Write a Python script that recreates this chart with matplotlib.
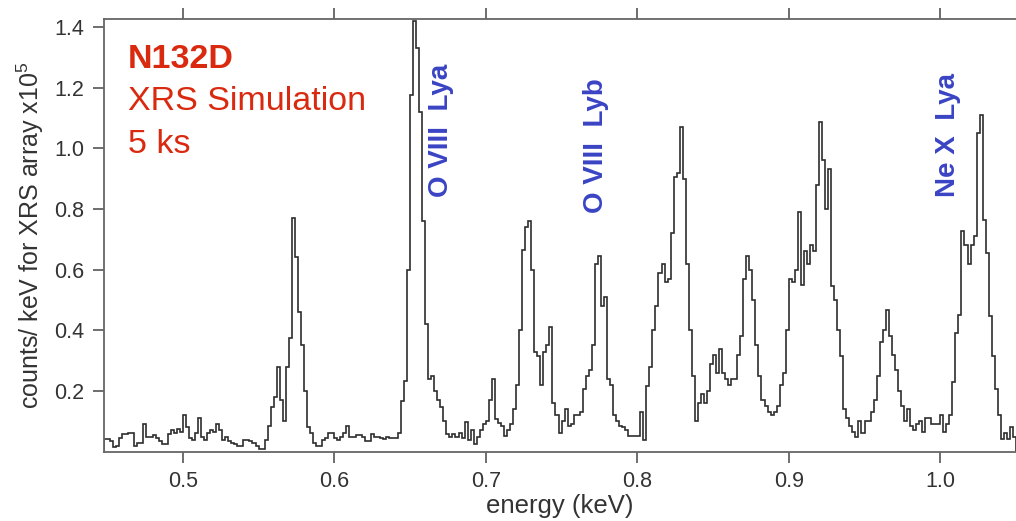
import numpy as np
import matplotlib
matplotlib.use('Agg')
import matplotlib.pyplot as plt

plt.rcParams['font.family'] = ['Liberation Sans', 'DejaVu Sans']
plt.rcParams['mathtext.fontset'] = 'custom'
plt.rcParams['mathtext.rm'] = 'Liberation Sans'

# spectrum binned at 2 eV, starting at 0.448 keV
bin_lo = 0.448
bin_width = 0.002
counts = [
    0.041, 0.041, 0.035, 0.015, 0.020, 0.046, 0.057, 0.057, 0.062, 0.062,
    0.020, 0.030, 0.030, 0.090, 0.050, 0.050, 0.055, 0.045, 0.035, 0.025,
    0.025, 0.057, 0.070, 0.060, 0.075, 0.065, 0.120, 0.080, 0.045, 0.040,
    0.060, 0.110, 0.050, 0.040, 0.060, 0.070, 0.065, 0.090, 0.070, 0.040,
    0.050, 0.035, 0.030,
    0.025, 0.020, 0.020, 0.040, 0.040, 0.035, 0.030, 0.020, 0.010, 0.010,
    0.040, 0.085, 0.146, 0.180, 0.280, 0.170, 0.100, 0.280, 0.376, 0.770,
    0.640, 0.460, 0.350, 0.200, 0.080, 0.060, 0.030, 0.020, 0.020, 0.040,
    0.045, 0.060, 0.060, 0.045, 0.040, 0.050, 0.060, 0.085, 0.050, 0.050,
    0.055, 0.055, 0.050,
    0.036, 0.036, 0.057, 0.047, 0.047, 0.045, 0.042, 0.050, 0.045, 0.045,
    0.045, 0.060, 0.167, 0.233, 0.600, 1.175, 1.420, 1.330, 1.120, 0.760,
    0.420, 0.240, 0.250, 0.200, 0.170, 0.146, 0.100, 0.057, 0.047, 0.057,
    0.050, 0.063, 0.045, 0.097, 0.040, 0.070, 0.025, 0.050, 0.070, 0.090,
    0.100, 0.170, 0.238,
    0.107, 0.096, 0.085, 0.053, 0.070, 0.090, 0.140, 0.220, 0.400, 0.666,
    0.740, 0.759, 0.600, 0.327, 0.316, 0.220, 0.330, 0.350, 0.410, 0.160,
    0.120, 0.060, 0.100, 0.140, 0.085, 0.090, 0.120, 0.120, 0.130, 0.205,
    0.250, 0.270, 0.350, 0.620, 0.644, 0.480, 0.510, 0.240, 0.220, 0.120,
    0.100, 0.085, 0.080,
    0.070, 0.052, 0.052, 0.052, 0.052, 0.130, 0.040, 0.216, 0.280, 0.400,
    0.480, 0.590, 0.620, 0.560, 0.570, 0.720, 0.906, 0.920, 1.070, 0.900,
    0.620, 0.400, 0.250, 0.100, 0.160, 0.190, 0.160, 0.200, 0.290, 0.320,
    0.260, 0.340, 0.260, 0.240, 0.220, 0.240, 0.240, 0.320, 0.380, 0.570,
    0.644, 0.600, 0.500,
    0.350, 0.250, 0.170, 0.150, 0.130, 0.120, 0.130, 0.150, 0.220, 0.260,
    0.400, 0.570, 0.560, 0.600, 0.790, 0.550, 0.660, 0.620, 0.680, 0.660,
    0.880, 1.087, 0.960, 0.800, 0.930, 0.545, 0.500, 0.400, 0.315, 0.140,
    0.110, 0.085, 0.065, 0.050, 0.100, 0.060, 0.100, 0.100, 0.130, 0.170,
    0.250, 0.360, 0.400,
    0.468, 0.380, 0.320, 0.270, 0.200, 0.150, 0.100, 0.140, 0.085, 0.070,
    0.090, 0.100, 0.065, 0.110, 0.110, 0.090, 0.090, 0.090, 0.120, 0.065,
    0.090, 0.120, 0.230, 0.390, 0.450, 0.726, 0.680, 0.620, 0.680, 0.710,
    1.050, 1.110, 0.764, 0.655, 0.446, 0.315, 0.205, 0.120, 0.041, 0.060,
    0.041, 0.080, 0.050,
]

line_labels = ['O VIII  Lya', 'O VIII  Lyb', 'Ne X  Lya']
line_x = [0.6704, 0.7728, 1.0053]
line_y = [0.84, 0.787, 0.84]

info_lines = ['N132D', 'XRS Simulation', '5 ks']

edges = bin_lo + bin_width * np.arange(len(counts) + 1)

fig = plt.figure(figsize=(10.16, 5.21), dpi=100)
ax = fig.add_axes([0.1024, 0.133, 0.8976, 0.830])

ax.stairs(counts, edges, color='#2e2e2e', linewidth=1.2)

ax.set_xlim(0.448, 1.05)
ax.set_ylim(0.0, 1.425)
ax.set_xticks([0.5, 0.6, 0.7, 0.8, 0.9, 1.0])
ax.set_xticklabels(['0.5', '0.6', '0.7', '0.8', '0.9', '1.0'])
ax.set_yticks([0.2, 0.4, 0.6, 0.8, 1.0, 1.2, 1.4])
ax.set_yticklabels(['0.2', '0.4', '0.6', '0.8', '1.0', '1.2', '1.4'])

for s in ['left', 'top', 'bottom']:
    ax.spines[s].set_color('#666666')
    ax.spines[s].set_linewidth(1.3)
ax.spines['right'].set_visible(False)
ax.tick_params(axis='both', direction='out', length=8, width=1.2,
               color='#555555', labelsize=15.5, labelcolor='#333333', pad=6)
ax.tick_params(axis='x', top=True, labeltop=False)

ax.set_xlabel('energy (keV)', fontsize=18.5, color='#333333', labelpad=1)
ax.set_ylabel(r'counts/ keV for XRS array x10$^{5}$', fontsize=18, color='#333333', labelpad=6)

red = '#d92a10'
ax.text(0.4637, 1.264, info_lines[0], color=red, fontsize=24.5, fontweight='bold', va='baseline')
ax.text(0.4637, 1.126, info_lines[1], color=red, fontsize=24.5, va='baseline')
ax.text(0.4637, 0.985, info_lines[2], color=red, fontsize=24.5, va='baseline')

for lab, x, y in zip(line_labels, line_x, line_y):
    ax.text(x, y, lab, rotation=90, color='#3a44c4', fontsize=20,
            fontweight='bold', ha='center', va='bottom')

fig.savefig('out.png', dpi=100)
